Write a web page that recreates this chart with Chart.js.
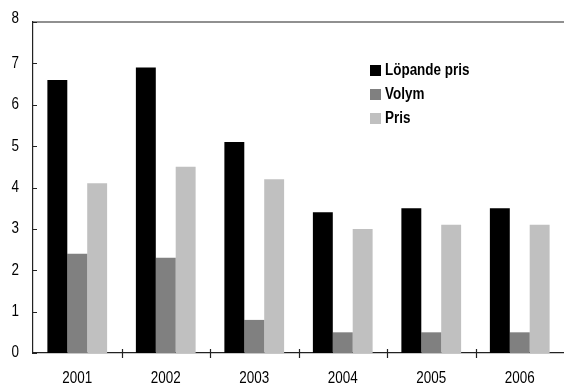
<!DOCTYPE html>
<html>
<head>
<meta charset="utf-8">
<script src="https://cdn.jsdelivr.net/npm/chart.js@4"></script>
<style>
    html, body { margin: 0; padding: 0; background: #fff; }
    #wrap { width: 564px; height: 387px; position: relative; }
</style>
</head>
<body>
<div id="wrap"><canvas id="chart"></canvas></div>
<script>
// Årsdata
const years = ['2001', '2002', '2003', '2004', '2005', '2006'];
const lopandePris = [6.6, 6.9, 5.1, 3.4, 3.5, 3.5];
const volym = [2.4, 2.3, 0.8, 0.5, 0.5, 0.5];
const pris = [4.1, 4.5, 4.2, 3.0, 3.1, 3.1];
const yTicks = [0, 1, 2, 3, 4, 5, 6, 7, 8];

const FONT = "'Liberation Sans', Arial, sans-serif";
const NARROW = 0.84; // smal text, som ett condensed-typsnitt

// Text ihoptryckt i x-led
function narrowText(ctx, text, x, y, align) {
    ctx.save();
    ctx.translate(x, y);
    ctx.scale(NARROW, 1);
    ctx.textAlign = align;
    ctx.fillText(text, 0, 0);
    ctx.restore();
}

// Ramar, inåtvända streck, axeltexter och legend
const framePlugin = {
    id: 'frame',
    afterDraw(chart) {
        const { ctx, chartArea: a, scales } = chart;
        const x = scales.x, y = scales.y;
        ctx.save();
        ctx.strokeStyle = '#222';
        ctx.lineWidth = 1.2;
        ctx.beginPath();
        // toppram
        ctx.moveTo(a.left, a.top);
        ctx.lineTo(a.right, a.top);
        // y-streck
        yTicks.forEach(v => {
            const py = Math.round(y.getPixelForValue(v)) + 0.5;
            ctx.moveTo(a.left, py);
            ctx.lineTo(a.left + 4, py);
        });
        // x-streck mellan kategorierna
        for (let i = 1; i < years.length; i++) {
            const px = Math.round((x.getPixelForValue(i - 1) + x.getPixelForValue(i)) / 2) + 0.5;
            ctx.moveTo(px, a.bottom - 4);
            ctx.lineTo(px, a.bottom + 5);
        }
        ctx.stroke();

        ctx.fillStyle = '#000';
        ctx.textBaseline = 'middle';
        ctx.font = '16px ' + FONT;
        // y-etiketter
        yTicks.forEach(v => {
            const py = y.getPixelForValue(v);
            narrowText(ctx, String(v), 19, v === yTicks[yTicks.length - 1] ? py - 3 : py, 'right');
        });
        // x-etiketter
        years.forEach((yr, i) => {
            narrowText(ctx, yr, x.getPixelForValue(i), a.bottom + 26, 'center');
        });

        // legend
        const lx = 370, ly = [70, 94, 118];
        ctx.font = 'bold 16px ' + FONT;
        chart.data.datasets.forEach((ds, i) => {
            ctx.fillStyle = ds.backgroundColor;
            ctx.fillRect(lx, ly[i] - 5, 11, 11);
            ctx.fillStyle = '#000';
            narrowText(ctx, ds.label, lx + 15, ly[i] + 1, 'left');
        });
        ctx.restore();
    }
};

new Chart(document.getElementById('chart'), {
    type: 'bar',
    data: {
        labels: years,
        datasets: [
            { label: 'Löpande pris', data: lopandePris, backgroundColor: '#000000' },
            { label: 'Volym', data: volym, backgroundColor: '#808080' },
            { label: 'Pris', data: pris, backgroundColor: '#c0c0c0' }
        ]
    },
    options: {
        responsive: true,
        maintainAspectRatio: false,
        animation: false,
        categoryPercentage: 0.675,
        barPercentage: 1,
        layout: { padding: { top: 22, right: 0, left: 0, bottom: 0 } },
        plugins: {
            legend: { display: false },
            tooltip: { enabled: false }
        },
        scales: {
            x: {
                grid: { display: false },
                border: { display: true, color: '#222', width: 1.2 },
                ticks: { display: false },
                afterFit: (s) => { s.height = 34; }
            },
            y: {
                min: 0,
                max: 8,
                grid: { display: false },
                border: { display: true, color: '#222', width: 1.2 },
                afterBuildTicks: (s) => { s.ticks = yTicks.map(v => ({ value: v })); },
                ticks: { display: false },
                afterFit: (s) => { s.width = 33; }
            }
        }
    },
    plugins: [framePlugin]
});
</script>
</body>
</html>
